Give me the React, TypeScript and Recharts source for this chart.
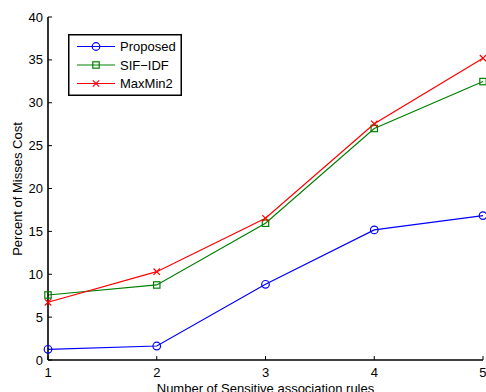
import { LineChart, Line, XAxis, YAxis, Legend } from 'recharts';

const rules = [1, 2, 3, 4, 5];
const proposed = [1.25, 1.63, 8.83, 15.17, 16.84];
const sifIdf = [7.58, 8.75, 15.95, 27.0, 32.47];
const maxMin2 = [6.73, 10.3, 16.53, 27.54, 35.2];
const yTicks = [0, 5, 10, 15, 20, 25, 30, 35, 40];

const series = [
  { key: 'proposed', name: 'Proposed', color: '#0000ff', marker: 'circle' },
  { key: 'sifIdf', name: 'SIF\u2212IDF', color: '#008000', marker: 'square' },
  { key: 'maxMin2', name: 'MaxMin2', color: '#ff0000', marker: 'cross' },
];

const data = rules.map((r, i) => ({
  rule: r,
  proposed: proposed[i],
  sifIdf: sifIdf[i],
  maxMin2: maxMin2[i],
}));

const FONT = '"Liberation Sans", Arial, Helvetica, sans-serif';

function Marker({ type, cx, cy, color }: { type: string; cx: number; cy: number; color: string }) {
  if (type === 'circle') return <circle cx={cx} cy={cy} r={3.8} fill="none" stroke={color} strokeWidth={1.2} />;
  if (type === 'square') return <rect x={cx - 3.2} y={cy - 3.2} width={6.4} height={6.4} fill="none" stroke={color} strokeWidth={1.2} />;
  return (
    <g stroke={color} strokeWidth={1.2}>
      <line x1={cx - 3.2} y1={cy - 3.2} x2={cx + 3.2} y2={cy + 3.2} />
      <line x1={cx - 3.2} y1={cy + 3.2} x2={cx + 3.2} y2={cy - 3.2} />
    </g>
  );
}

function LegendBox() {
  return (
    <svg width={114} height={62} style={{ display: 'block' }}>
      <rect x={0.75} y={0.75} width={112.5} height={60.5} fill="#fff" stroke="#000" strokeWidth={1.5} />
      {series.map((s, i) => {
        const y = 12.5 + i * 18.5;
        return (
          <g key={s.key}>
            <line x1={9} y1={y} x2={47} y2={y} stroke={s.color} strokeWidth={1.2} />
            <Marker type={s.marker} cx={28} cy={y} color={s.color} />
            <text x={52} y={y + 4.5} fontSize={13} fontFamily={FONT} fill="#000">{s.name}</text>
          </g>
        );
      })}
    </svg>
  );
}

export default function App() {
  return (
    <div style={{ position: 'absolute', left: 0, top: 0, background: '#fff' }}>
      <LineChart width={486} height={392} data={data} margin={{ top: 17, right: 3, bottom: 0, left: 0 }}>
        <XAxis
          xAxisId="b" dataKey="rule" type="number" domain={[1, 5]} ticks={rules}
          height={32} tickSize={-4} tickMargin={12}
          axisLine={{ stroke: '#000', strokeWidth: 1.6 }} tickLine={{ stroke: '#000' }}
          tick={{ fill: '#000', fontSize: 13, fontFamily: FONT }}
          label={{
            content: () => (
              <text x={265.5} y={392.5} textAnchor="middle" fontSize={13} fontFamily={FONT} fill="#000">
                Number of Sensitive association rules
              </text>
            ),
          }}
        />
        <XAxis
          xAxisId="t" orientation="top" dataKey="rule" type="number" domain={[1, 5]} ticks={rules}
          height={0} tickSize={-4} tick={false}
          axisLine={{ stroke: '#000', strokeWidth: 1 }} tickLine={{ stroke: '#000' }}
        />
        <YAxis
          yAxisId="l" type="number" domain={[0, 40]} ticks={yTicks} width={48}
          tickSize={-4} tickMargin={9}
          axisLine={{ stroke: '#000', strokeWidth: 1.6 }} tickLine={{ stroke: '#000' }}
          tick={{ fill: '#000', fontSize: 13, fontFamily: FONT }}
          label={{
            content: () => (
              <text x={22} y={189} transform="rotate(-90 22 189)" textAnchor="middle" fontSize={13} fontFamily={FONT} fill="#000">
                Percent of Misses Cost
              </text>
            ),
          }}
        />
        <YAxis
          yAxisId="r" orientation="right" type="number" domain={[0, 40]} ticks={yTicks} width={0}
          tickSize={-4} tick={false}
          axisLine={{ stroke: '#000', strokeWidth: 1 }} tickLine={{ stroke: '#000' }}
        />
        <Legend
          layout="vertical" align="center" verticalAlign="middle"
          wrapperStyle={{ left: 68, top: 34, width: 114, height: 62 }}
          content={() => <LegendBox />}
        />
        {series.map((s) => (
          <Line
            key={s.key}
            xAxisId="b"
            yAxisId="l"
            dataKey={s.key}
            name={s.name}
            stroke={s.color}
            strokeWidth={1.2}
            isAnimationActive={false}
            dot={(p: any) => <Marker key={`${s.key}-${p.index}`} type={s.marker} cx={p.cx} cy={p.cy} color={s.color} />}
            activeDot={false}
          />
        ))}
      </LineChart>
    </div>
  );
}
